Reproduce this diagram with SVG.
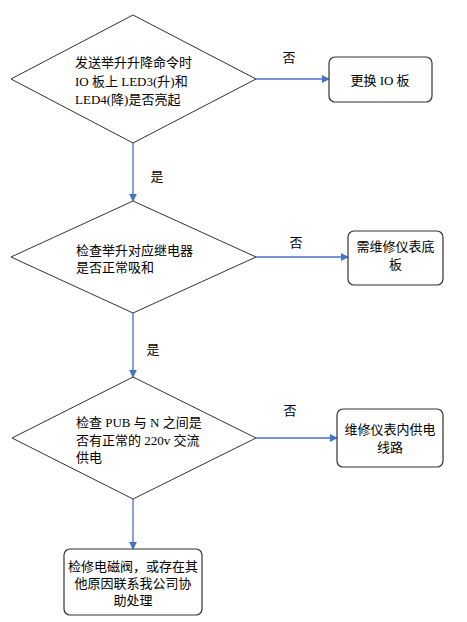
<svg xmlns="http://www.w3.org/2000/svg" width="467" height="622" viewBox="0 0 467 622">
<defs>
<style>
.shape{fill:#fff;stroke:#333;stroke-width:1}
.box{fill:#fff;stroke:#333;stroke-width:1.2}
.t{font-family:"Liberation Serif","Noto Sans CJK SC",serif;font-size:13px;fill:#000}
.c{text-anchor:middle}
.conn{stroke:#4472C4;stroke-width:1.3;fill:none;marker-end:url(#ah)}
</style>
<marker id="ah" viewBox="0 0 10 10" refX="9" refY="5" markerWidth="8" markerHeight="8" markerUnits="userSpaceOnUse" orient="auto">
<path d="M0,0 L10,5 L0,10 z" fill="#4472C4"/>
</marker>
</defs>
<rect width="467" height="622" fill="#fff"/>
<g id="connectors">
<line class="conn" x1="256" y1="79" x2="329" y2="79"/>
<line class="conn" x1="133" y1="143" x2="133" y2="201"/>
<line class="conn" x1="256" y1="257" x2="348" y2="257"/>
<line class="conn" x1="133" y1="313" x2="133" y2="377"/>
<line class="conn" x1="256" y1="438" x2="337" y2="438"/>
<line class="conn" x1="133" y1="499" x2="133" y2="549"/>
<text class="t c" x="289" y="62">否</text>
<text class="t c" x="157" y="181">是</text>
<text class="t c" x="296" y="247">否</text>
<text class="t c" x="153" y="354">是</text>
<text class="t c" x="290" y="415">否</text>
</g>
<g id="d1">
<polygon class="shape" points="133,15 256,79 133,143 11,79"/>
<text class="t" x="75" y="67">发送举升升降命令时</text>
<text class="t" x="75" y="86">IO 板上 LED3(升)和</text>
<text class="t" x="75" y="104">LED4(降)是否亮起</text>
</g>
<g id="b1">
<rect class="box" x="329" y="57" width="103" height="45" rx="6"/>
<text class="t c" x="380" y="85">更换 IO 板</text>
</g>
<g id="d2">
<polygon class="shape" points="133,201 256,257 133,313 11,257"/>
<text class="t" x="76" y="255">检查举升对应继电器</text>
<text class="t" x="76" y="272">是否正常吸和</text>
</g>
<g id="b2">
<rect class="box" x="348" y="231" width="95" height="54" rx="6"/>
<text class="t c" x="395.5" y="251">需维修仪表底</text>
<text class="t c" x="395.5" y="269">板</text>
</g>
<g id="d3">
<polygon class="shape" points="133,377 256,438 133,499 12,438"/>
<text class="t" x="76" y="427">检查 PUB 与 N 之间是</text>
<text class="t" x="76" y="445">否有正常的 220v 交流</text>
<text class="t" x="76" y="462">供电</text>
</g>
<g id="b3">
<rect class="box" x="337" y="409" width="106" height="58" rx="6"/>
<text class="t c" x="390" y="434">维修仪表内供电</text>
<text class="t c" x="390" y="452">线路</text>
</g>
<g id="b4">
<rect class="box" x="64" y="549" width="138" height="66" rx="6"/>
<text class="t c" x="133" y="571">检修电磁阀，或存在其</text>
<text class="t c" x="133" y="588">他原因联系我公司协</text>
<text class="t c" x="133" y="605">助处理</text>
</g>
</svg>
